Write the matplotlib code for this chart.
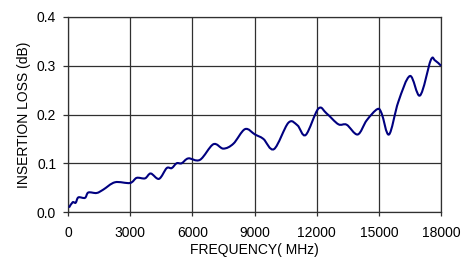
import matplotlib
matplotlib.use("Agg")
import matplotlib.pyplot as plt
import numpy as np
from matplotlib.path import Path
from matplotlib.patches import PathPatch

plt.rcParams['font.family'] = ['Liberation Sans', 'DejaVu Sans']

freq_mhz = [48, 225, 370, 500, 820, 981, 1383, 1705, 2268, 2992, 3314, 3716, 3990,
            4392, 4762, 5003, 5244, 5485, 5807, 6370, 7014, 7496, 7979, 8542, 9024,
            9427, 9942, 10634, 11068, 11470, 12081, 12483, 13046, 13448, 13978,
            14413, 14927, 15137, 15491, 15941, 16504, 16987, 17501, 17710, 18000]
loss_db = [0.009, 0.020, 0.019, 0.030, 0.029, 0.040, 0.039, 0.046, 0.061, 0.0595,
           0.070, 0.069, 0.079, 0.068, 0.090, 0.090, 0.100, 0.100, 0.110, 0.107,
           0.139, 0.130, 0.140, 0.170, 0.159, 0.150, 0.129, 0.183, 0.178, 0.158,
           0.212, 0.202, 0.180, 0.179, 0.159, 0.188, 0.211, 0.202, 0.159, 0.226,
           0.279, 0.239, 0.311, 0.311, 0.300]
x_ticks = [0, 3000, 6000, 9000, 12000, 15000, 18000]
y_ticks = [0.0, 0.1, 0.2, 0.3, 0.4]
y_tick_labels = ["0.0", "0.1", "0.2", "0.3", "0.4"]

fig = plt.figure(figsize=(4.63, 2.59), dpi=100)
ax = fig.add_axes([68/463, 47/259, 373/463, 195/259])
ax.set_xlim(0, 18000)
ax.set_ylim(0, 0.4)

# smoothed line (Catmull-Rom -> cubic Bezier) through the read points
x = np.array(freq_mhz, float)
y = np.array(loss_db, float)
verts = [(x[0], y[0])]
codes = [Path.MOVETO]
n = len(x)
for i in range(n - 1):
    p0 = np.array([x[max(i-1, 0)], y[max(i-1, 0)]])
    p1 = np.array([x[i], y[i]])
    p2 = np.array([x[i+1], y[i+1]])
    p3 = np.array([x[min(i+2, n-1)], y[min(i+2, n-1)]])
    c1 = p1 + (p2 - p0) / 6.0
    c2 = p2 - (p3 - p1) / 6.0
    verts += [tuple(c1), tuple(c2), tuple(p2)]
    codes += [Path.CURVE4] * 3
patch = PathPatch(Path(verts, codes), facecolor='none', edgecolor='#000080',
                  lw=1.5, zorder=3, clip_on=False)
ax.add_patch(patch)

ax.set_xticks(x_ticks)
ax.set_yticks(y_ticks)
ax.set_yticklabels(y_tick_labels)
ax.grid(True, color='#303030', lw=0.9)
for s in ax.spines.values():
    s.set_color('#303030')
    s.set_linewidth(0.9)
ax.tick_params(axis='both', direction='out', width=0.9, color='#303030',
               labelsize=10)
ax.tick_params(axis='y', length=3.5, pad=5)
ax.tick_params(axis='x', length=3, pad=7)
ax.set_xlabel("FREQUENCY( MHz)", fontsize=10, labelpad=2)
ax.set_ylabel("INSERTION LOSS (dB)", fontsize=10, labelpad=4)

fig.savefig("out.png", dpi=100)
